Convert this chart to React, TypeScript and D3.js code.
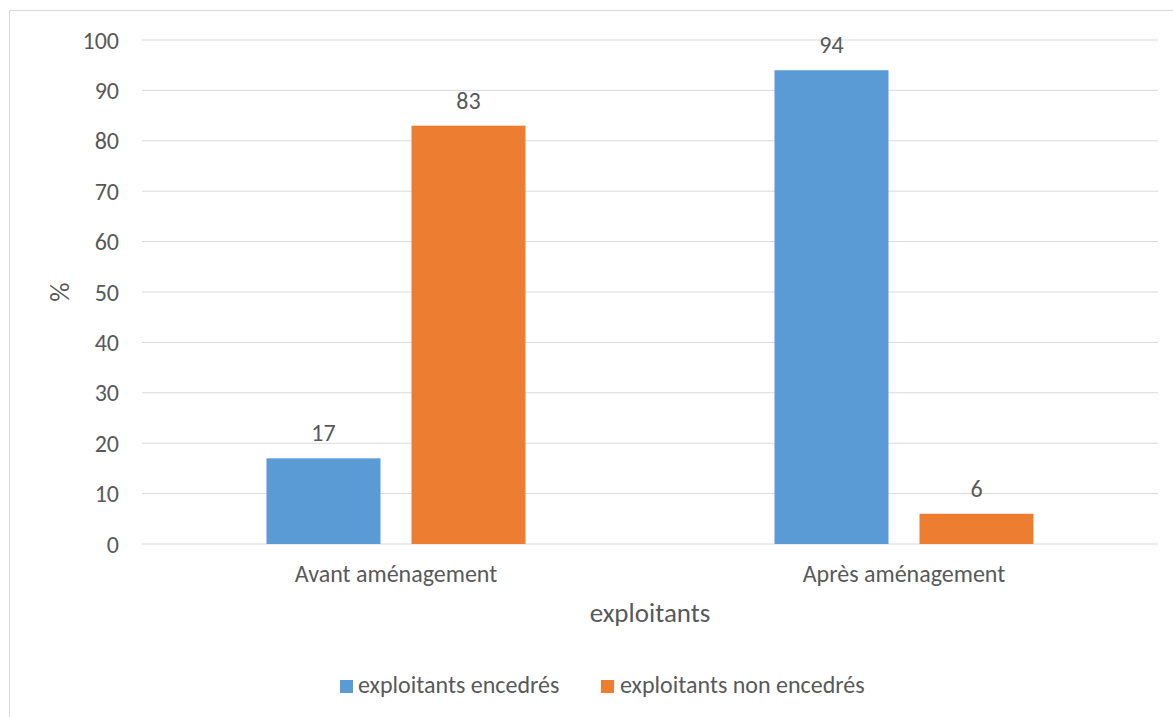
import React from "react";
import * as d3 from "d3";

const categories = ["Avant aménagement", "Après aménagement"];
const seriesNames = ["exploitants encedrés", "exploitants non encedrés"];
const encedres = [17, 94];
const nonEncedres = [83, 6];
const yTicks = [0, 10, 20, 30, 40, 50, 60, 70, 80, 90, 100];
const colors = ["#5B9BD5", "#ED7D31"];

const W = 1173;
const H = 717;
const FONT = "Carlito, Calibri, Lato, 'Open Sans', sans-serif";
const TXT = "#595959";
const FS = 24;

export default function App() {
  const left = 142, right = 1158, top = 40, bottom = 544;
  const x0 = d3.scaleBand().domain(categories).range([left, right]).paddingInner(0).paddingOuter(0);
  const y = d3.scaleLinear().domain([0, 100]).range([bottom, top]);
  const bw = 114, gap = 31;
  const series = [encedres, nonEncedres];

  return (
    <svg width={W} height={H} style={{ position: "absolute", left: 0, top: 0 }}>
      <rect x={0} y={0} width={W} height={H} fill="#fff" />
      <rect x={9.5} y={10.5} width={W + 20} height={H + 20} fill="none" stroke="#d9d9d9" strokeWidth={1} />
      {yTicks.map((t) => (
        <g key={t}>
          <line x1={left} x2={right} y1={y(t)} y2={y(t)} stroke="#d9d9d9" strokeWidth={1} />
          <text x={119} y={y(t)} dy="0.36em" textAnchor="end" fontSize={FS} fill={TXT} fontFamily={FONT}>
            {t}
          </text>
        </g>
      ))}
      {categories.map((c, i) => {
        const cx = (x0(c) as number) + x0.bandwidth() / 2;
        return (
          <g key={c}>
            {series.map((s, j) => {
              const bx = j === 0 ? cx - gap / 2 - bw : cx + gap / 2;
              return (
                <g key={j}>
                  <rect x={bx} y={y(s[i])} width={bw} height={y(0) - y(s[i])} fill={colors[j]} />
                  <text x={bx + bw / 2} y={y(s[i]) - 17} textAnchor="middle" fontSize={FS} fill={TXT} fontFamily={FONT}>
                    {s[i]}
                  </text>
                </g>
              );
            })}
            <text x={cx} y={582} textAnchor="middle" fontSize={FS} fill={TXT} fontFamily={FONT}>
              {c}
            </text>
          </g>
        );
      })}
      <text x={650} y={622} textAnchor="middle" fontSize={27} fill={TXT} fontFamily={FONT}>
        exploitants
      </text>
      <text transform={`translate(69,${(top + bottom) / 2}) rotate(-90)`} textAnchor="middle" fontSize={27} fill={TXT} fontFamily={FONT}>
        %
      </text>
      <g>
        <rect x={340} y={680} width={13} height={13} fill={colors[0]} />
        <text x={358} y={693} fontSize={FS} fill={TXT} fontFamily={FONT}>{seriesNames[0]}</text>
        <rect x={601} y={680} width={13} height={13} fill={colors[1]} />
        <text x={620} y={693} fontSize={FS} fill={TXT} fontFamily={FONT}>{seriesNames[1]}</text>
      </g>
    </svg>
  );
}
